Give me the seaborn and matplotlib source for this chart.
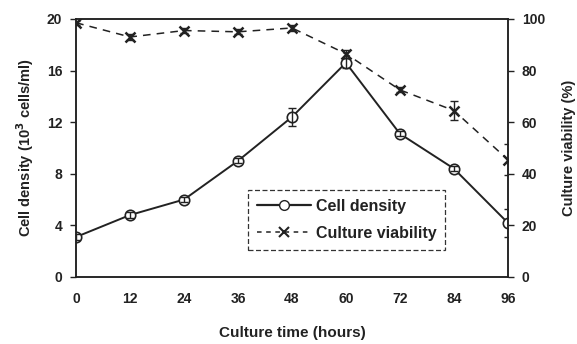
import matplotlib
matplotlib.use("Agg")
import matplotlib.pyplot as plt
import seaborn as sns
import pandas as pd
from matplotlib.lines import Line2D

sns.set_theme(style="white")
plt.rcParams['font.family'] = ['Liberation Sans', 'DejaVu Sans']

hours = [0, 12, 24, 36, 48, 60, 72, 84, 96]
cell_density = [3.1, 4.8, 6.0, 9.0, 12.4, 16.6, 11.1, 8.4, 4.2]
density_err = [0.2, 0.2, 0.2, 0.2, 0.7, 0.4, 0.2, 0.2, 1.1]
viability = [98.5, 93.0, 95.5, 95.0, 96.5, 86.5, 72.5, 64.5, 45.5]
viability_err = [0.8, 1.2, 1.0, 1.0, 1.0, 1.5, 1.0, 3.5, 6.0]
xtick_labels = ["0", "12", "24", "36", "48", "60", "72", "84", "96"]

df = pd.DataFrame({"hours": hours, "density": cell_density, "derr": density_err,
                   "viab": viability, "verr": viability_err})

fig = plt.figure(figsize=(5.77, 3.44), dpi=100)
ax = fig.add_axes([0.132, 0.195, 0.748, 0.75])
ax2 = ax.twinx()

sns.lineplot(data=df, x="hours", y="density", ax=ax, color="#222222", lw=1.4,
             marker="o", markersize=7.5, markerfacecolor="white",
             markeredgecolor="#222222", markeredgewidth=1.2, legend=False)
ax.errorbar(df["hours"], df["density"], yerr=df["derr"], fmt="none",
            ecolor="#222222", elinewidth=1.0, capsize=3)

sns.lineplot(data=df, x="hours", y="viab", ax=ax2, color="#222222", lw=1.1,
             linestyle=(0, (5, 4)), marker="x", markersize=7,
             markeredgecolor="#222222", markeredgewidth=1.8, legend=False)
ax2.errorbar(df["hours"], df["viab"], yerr=df["verr"], fmt="none",
             ecolor="#222222", elinewidth=1.0, capsize=3)

ax.set_xlim(0, 96)
ax.set_ylim(0, 20)
ax2.set_ylim(0, 100)
ax.set_xticks(hours)
ax.set_xticklabels(xtick_labels)
ax.set_yticks([0, 4, 8, 12, 16, 20])
ax2.set_yticks([0, 20, 40, 60, 80, 100])

for a in (ax, ax2):
    for s in a.spines.values():
        s.set_color("#222222")
        s.set_linewidth(1.1)
    a.tick_params(axis="both", colors="#222222", labelsize=10, length=4, width=1,
                  direction="out")
    for lab in a.get_xticklabels() + a.get_yticklabels():
        lab.set_fontweight("bold")
ax.tick_params(axis="x", pad=7)
ax.tick_params(axis="y", left=True, pad=6)
ax2.tick_params(axis="y", right=True, pad=6)

ax.set_xlabel("Culture time (hours)", fontsize=11, fontweight="bold",
              color="#222222", labelpad=14)
ax.set_ylabel("Cell density (10$^\\mathbf{3}$ cells/ml)", fontsize=10.5, fontweight="bold",
              color="#222222", labelpad=8)
ax2.set_ylabel("Culture viability (%)", fontsize=10.5, fontweight="bold",
               color="#222222", labelpad=12)

handles = [
    Line2D([], [], color="#222222", lw=1.6, marker="o", markersize=7,
           markerfacecolor="white", markeredgecolor="#222222"),
    Line2D([], [], color="#222222", lw=1.1, linestyle=(0, (3, 3)), marker="x",
           markersize=7, markeredgewidth=1.5),
]
leg = ax.legend(handles, ["Cell density", "Culture viability"],
                loc="upper left", bbox_to_anchor=(0.398, 0.337),
                frameon=True, fancybox=False, prop={"size": 11.5, "weight": "bold"},
                handlelength=3.4, borderpad=0.55, labelspacing=0.75,
                handletextpad=0.3, borderaxespad=0)
fr = leg.get_frame()
fr.set_edgecolor("#333333")
fr.set_linestyle((0, (4, 2)))
fr.set_linewidth(0.9)
fr.set_facecolor("white")
fr.set_alpha(1)
for t in leg.get_texts():
    t.set_color("#222222")

fig.savefig("out.png", dpi=100)
